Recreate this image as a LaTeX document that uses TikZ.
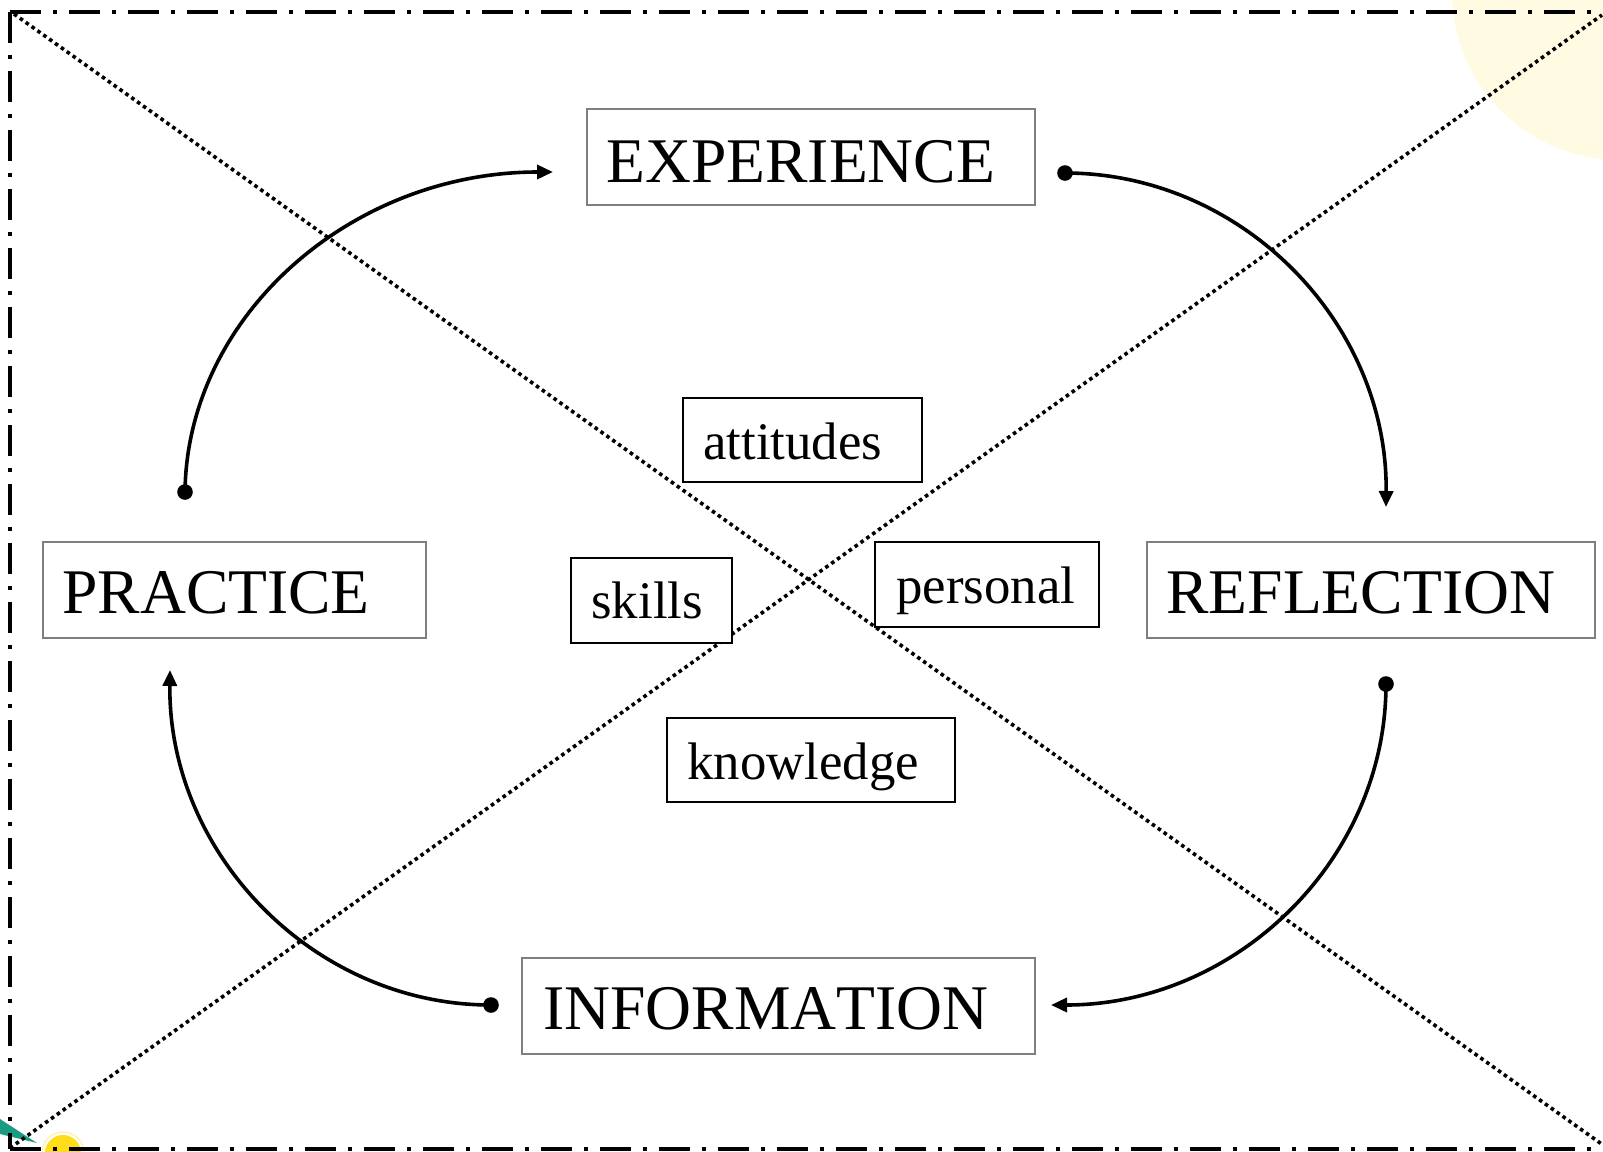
\documentclass[tikz,border=0pt]{standalone}
\usepackage{fontspec}
\setmainfont[Kerning=Off]{Liberation Serif}
\usetikzlibrary{arrows.meta}

\definecolor{paleyellow}{HTML}{FFFBE3}
\definecolor{sunyellow}{HTML}{FFDD1A}
\definecolor{leafteal}{HTML}{1B9B82}
\definecolor{boxgray}{HTML}{7F7F7F}

\tikzset{
  bigbox/.style={draw=boxgray, line width=0.75pt, fill=white},
  smallbox/.style={draw=black, line width=1pt, fill=white},
  bigtext/.style={anchor=base west, inner sep=0pt, font=\fontsize{31.8pt}{36pt}\selectfont},
  smalltext/.style={anchor=base west, inner sep=0pt, font=\fontsize{26.4pt}{30pt}\selectfont},
  framecut/.style={line width=1.9pt, dash pattern=on 15.5pt off 6pt on 2pt off 6pt},
  diag/.style={line width=1.8pt, dash pattern=on 1.8pt off 1.8pt},
  cycle arrow/.style={line width=1.8pt, -{Triangle[length=8pt,width=7pt]}},
  startdot/.style={fill=black},
}

\begin{document}
\begin{tikzpicture}[x=0.5pt, y=-0.5pt]
  % canvas
  \fill[white] (0,0) rectangle (1603,1152);
  \useasboundingbox (0,0) rectangle (1603,1152);

  % corner decorations
  \fill[paleyellow] (1620,-8) circle (84pt);
  \fill[leafteal] (0,1119) -- (37,1143) -- (0,1134) -- cycle;
  \fill[sunyellow] (63,1153) circle (9pt);
  \draw[sunyellow!40, line width=0.6pt] (63,1153) circle (10.5pt);

  % dash-dot frame
  \draw[framecut] (10,12) -- (10,1149);
  \draw[framecut] (10,12) -- (1610,12);
  \draw[framecut] (10,1149) -- (1610,1149);

  % dotted diagonals
  \draw[diag] (14,14) -- (1603,1145);
  \draw[diag] (10,1148) -- (1602,15);

  % arrow ends
  \coordinate (pstart) at (185,492);
  \coordinate (eend)   at (553,172);
  \coordinate (estart) at (1065,173);
  \coordinate (rend)   at (1386,507);
  \coordinate (rstart) at (1386,684);
  \coordinate (iend)   at (1051,1005);
  \coordinate (istart) at (491,1005);
  \coordinate (pend)   at (170,670);

  % cycle arrows
  \draw[cycle arrow] (pstart) .. controls (187,316) and (351,172) .. (eend);
  \draw[cycle arrow] (estart) .. controls (1242,173) and (1388,323) .. (rend);
  \draw[cycle arrow] (rstart) .. controls (1386,861) and (1235,1005) .. (iend);
  \draw[cycle arrow] (istart) .. controls (314,1005) and (168,854) .. (pend);
  \foreach \p in {pstart,estart,rstart,istart}
    \fill[startdot] (\p) circle (3.9pt);

  % main stage boxes
  \node[bigbox, draw, anchor=north west, minimum width=224pt, minimum height=48pt, inner sep=0pt] (exp) at (586,108) {};
  \node[bigtext] (expt) at (606,182) {EXPERIENCE};
  \node[bigbox, draw, anchor=north west, minimum width=191.5pt, minimum height=48pt, inner sep=0pt] (prac) at (42,541) {};
  \node[bigtext] (pract) at (62,613) {PRACTICE};
  \node[bigbox, draw, anchor=north west, minimum width=224pt, minimum height=48pt, inner sep=0pt] (refl) at (1146,541) {};
  \node[bigtext] (reflt) at (1166,613) {REFLECTION};
  \node[bigbox, draw, anchor=north west, minimum width=256.5pt, minimum height=48pt, inner sep=0pt] (info) at (521,957) {};
  \node[bigtext] (infot) at (543,1029) {INFORMATION};

  % inner labels
  \node[smallbox, anchor=north west, minimum width=119.5pt, minimum height=42pt, inner sep=0pt] (att) at (682,397) {};
  \node[smalltext] (attt) at (703,459) {attitudes};
  \node[smallbox, anchor=north west, minimum width=80.5pt, minimum height=42.5pt, inner sep=0pt] (ski) at (570,557) {};
  \node[smalltext] (skit) at (591,618) {skills};
  \node[smallbox, anchor=north west, minimum width=112pt, minimum height=42.5pt, inner sep=0pt] (per) at (874,541) {};
  \node[smalltext] (pert) at (896,603) {personal};
  \node[smallbox, anchor=north west, minimum width=144pt, minimum height=42pt, inner sep=0pt] (kno) at (666,717) {};
  \node[smalltext] (knot) at (687,779) {knowledge};
\end{tikzpicture}
\end{document}
